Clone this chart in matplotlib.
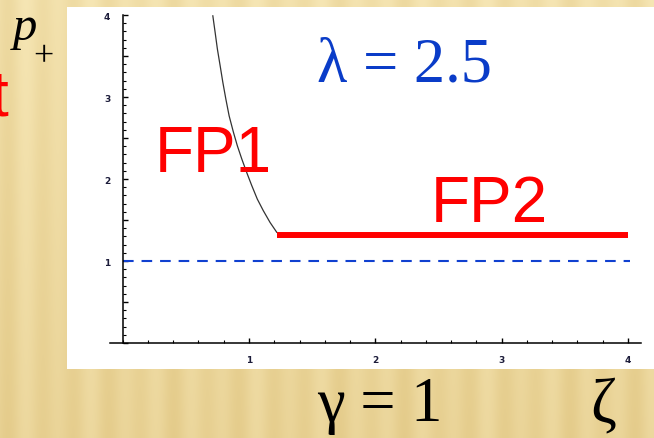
import numpy as np
import matplotlib
matplotlib.use('Agg')
import matplotlib.pyplot as plt
from matplotlib.patches import Rectangle
from matplotlib.ticker import MultipleLocator, FixedLocator, FuncFormatter

W, H = 654, 439

# boundary curve of the FP1 region
zeta_curve = [0.714, 0.732, 0.750, 0.772, 0.793, 0.817, 0.843, 0.877,
              0.908, 0.943, 0.982, 1.022, 1.066, 1.113, 1.167, 1.220]
p_curve = [3.99, 3.79, 3.585, 3.38, 3.18, 2.975, 2.77, 2.57,
           2.405, 2.245, 2.08, 1.92, 1.755, 1.615, 1.47, 1.35]

# FP2 branch
zeta_fp2 = [1.22, 4.0]
p_fp2 = [1.32, 1.32]

# reference level p = 1
zeta_ref = [0.0, 4.02]
p_ref = [1.0, 1.0]

x_ticks = [1, 2, 3, 4]
y_ticks = [1, 2, 3, 4]


def fx(px):
    return px / W


def fy(py):
    return 1 - py / H


fig = plt.figure(figsize=(W / 100, H / 100), dpi=100)

# beige striped slide background
bg = fig.add_axes([0, 0, 1, 1])
xs = np.arange(W)
ys = np.arange(H)[:, None]
s = 0.5 + 0.25 * np.sin(2 * np.pi * xs / 33) + 0.12 * np.sin(2 * np.pi * xs / 57 + 1.3)
shade = np.clip(s[None, :] * 0.55 + 0.45 * ys / H, 0, 1)
light = np.array([0.97, 0.91, 0.72])
dark = np.array([0.89, 0.79, 0.53])
img = light[None, None, :] * (1 - shade[..., None]) + dark[None, None, :] * shade[..., None]
bg.imshow(img, extent=[0, W, H, 0], aspect='auto', interpolation='bilinear')
bg.axis('off')

# white plot panel
fig.add_artist(Rectangle((fx(67), fy(370)), fx(654) - fx(67), fy(8) - fy(370),
                         transform=fig.transFigure, facecolor='white',
                         edgecolor='none', zorder=1))

ax = fig.add_axes([fx(110), fy(344), fx(640.6) - fx(110), fy(16) - fy(344)])
ax.set_facecolor('none')
ax.set_zorder(2)
ax.set_xlim(-0.1, 4.1)
ax.set_ylim(0, 4)

ax.plot(zeta_curve, p_curve, color='#333333', lw=0.9, clip_on=False)
ax.plot(zeta_fp2, p_fp2, color='#ff0000', lw=4.3, solid_capstyle='butt')
ax.plot(zeta_ref, p_ref, color='#1040d0', lw=1.5, dashes=(5.1, 3.8))

for side in ['top', 'right']:
    ax.spines[side].set_visible(False)
ax.spines['left'].set_position(('data', 0))
ax.spines['left'].set_linewidth(1.1)
ax.spines['bottom'].set_linewidth(1.1)

ax.xaxis.set_major_locator(FixedLocator(x_ticks))
ax.xaxis.set_minor_locator(MultipleLocator(0.2))
ax.yaxis.set_major_locator(MultipleLocator(0.5))
ax.yaxis.set_minor_locator(MultipleLocator(0.1))
ax.yaxis.set_major_formatter(FuncFormatter(
    lambda v, _: str(int(v)) if v in y_ticks else ''))
ax.xaxis.set_major_formatter(FuncFormatter(
    lambda v, _: str(int(v)) if v in x_ticks else ''))

ax.tick_params(which='major', direction='in', length=3.5, width=1.0,
               labelsize=6.5, labelcolor='#1c1c3a')
ax.tick_params(which='minor', direction='in', length=2.2, width=0.8)
ax.tick_params(axis='x', pad=9)
ax.tick_params(axis='y', pad=9)
for lab in ax.get_xticklabels() + ax.get_yticklabels():
    lab.set_fontweight('bold')

serif = 'Liberation Serif'
sans = 'Liberation Sans'

fig.text(fx(317), fy(82), 'λ = 2.5', family=serif, fontsize=45,
         color='#0a3cc8', ha='left', va='baseline', zorder=3)
fig.text(fx(155), fy(172), 'FP1', family=sans, fontsize=46,
         color='#ff0000', ha='left', va='baseline', zorder=3)
fig.text(fx(431), fy(222), 'FP2', family=sans, fontsize=46,
         color='#ff0000', ha='left', va='baseline', zorder=3)

fig.text(fx(13), fy(40), 'p', family=serif, style='italic', fontsize=35,
         color='black', ha='left', va='baseline', zorder=3)
fig.text(fx(43), fy(66), '+', family=serif, fontsize=26,
         color='black', ha='center', va='baseline', zorder=3)
fig.text(fx(9), fy(115), 't', family=sans, fontsize=46,
         color='#ff0000', ha='right', va='baseline', zorder=3)

fig.text(fx(317), fy(421), 'γ = 1', family=serif, fontsize=45,
         color='black', ha='left', va='baseline', zorder=3)
fig.text(fx(590), fy(421), 'ζ', family=serif, fontsize=45,
         color='black', ha='left', va='baseline', zorder=3)

fig.savefig('out.png', dpi=100)
